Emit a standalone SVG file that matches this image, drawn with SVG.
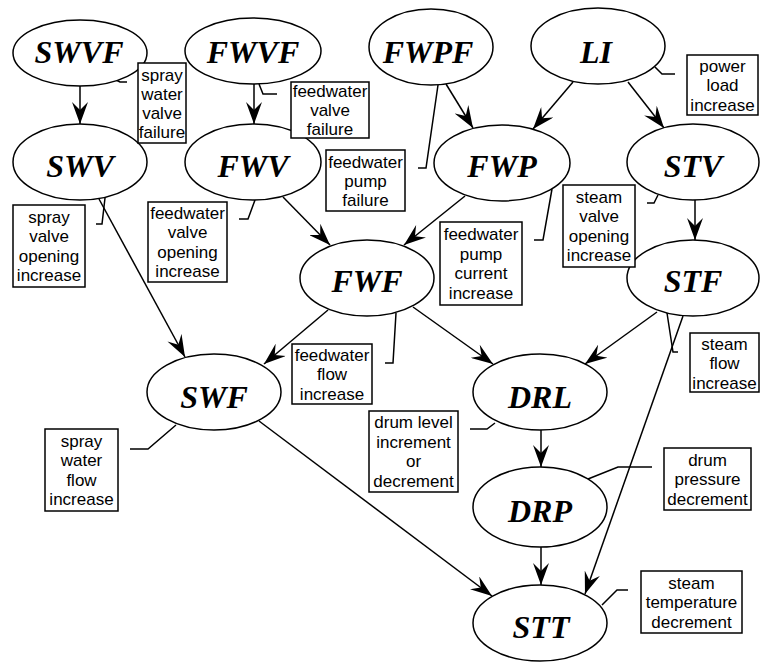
<svg xmlns="http://www.w3.org/2000/svg" width="760" height="662" viewBox="0 0 760 662">
<style>
.n ellipse{fill:#fff;stroke:#000;stroke-width:1.5}
.n text{font-family:"Liberation Serif","Times New Roman",serif;font-weight:bold;font-style:italic;font-size:32px;text-anchor:middle;fill:#000}
.l rect{fill:#fff;stroke:#000;stroke-width:1.5}
.l text{font-family:"Liberation Sans",Arial,sans-serif;font-size:17px;text-anchor:middle;fill:#000}
.e line{stroke:#000;stroke-width:1.5;marker-end:url(#ah)}
.ld polyline{fill:none;stroke:#000;stroke-width:1.5}
</style>
<defs>
<marker id="ah" viewBox="0 0 22 16" refX="22" refY="8" markerWidth="22" markerHeight="16" markerUnits="userSpaceOnUse" orient="auto">
<path d="M0,0 L22,8 L0,16 L8,8 Z" fill="#000"/>
</marker>
</defs>
<rect width="760" height="662" fill="#fff"/>

<g id="connectors">
<g class="e">
<line x1="80" y1="86" x2="80" y2="124"/>
<line x1="254" y1="84" x2="254" y2="124"/>
<line x1="446" y1="84" x2="473" y2="128"/>
<line x1="573" y1="82" x2="533" y2="129"/>
<line x1="628" y1="82" x2="664" y2="128"/>
<line x1="695" y1="200" x2="695" y2="240"/>
<line x1="283" y1="197" x2="330" y2="245"/>
<line x1="465" y1="196" x2="404" y2="245"/>
<line x1="99" y1="199" x2="185" y2="357"/>
<line x1="328" y1="310" x2="264" y2="364"/>
<line x1="413" y1="307" x2="493" y2="364"/>
<line x1="657" y1="312" x2="585" y2="364"/>
<line x1="541" y1="430" x2="541" y2="467"/>
<line x1="541" y1="547" x2="541" y2="585"/>
<line x1="259" y1="421" x2="492" y2="596"/>
<line x1="683" y1="316" x2="585" y2="594"/>
</g>
<g class="ld">
<polyline points="116,80 120,82 127,82"/>
<polyline points="259,84 263,94 277,94"/>
<polyline points="438,85 426,168 418,168"/>
<polyline points="655,67 662,74 675,74"/>
<polyline points="105,198 102,224 96,224"/>
<polyline points="255,200 248,219 239,219"/>
<polyline points="552,189 543,240 534,240"/>
<polyline points="658,195 654,203 647,203"/>
<polyline points="396,313 393,363 385,363"/>
<polyline points="667,313 673,352 678,352"/>
<polyline points="495,423 487,429 470,429"/>
<polyline points="176,425 148,449 130,449"/>
<polyline points="588,479 618,467 652,467"/>
<polyline points="602,605 617,590 628,590"/>
</g>
</g>

<g id="SWVF" class="n"><ellipse cx="80" cy="53" rx="67" ry="33"/><text x="79" y="63">SWVF</text></g>
<g id="FWVF" class="n"><ellipse cx="253" cy="51" rx="68" ry="33"/><text x="253" y="63">FWVF</text></g>
<g id="FWPF" class="n"><ellipse cx="431" cy="47" rx="62" ry="38"/><text x="428" y="63">FWPF</text></g>
<g id="LI" class="n"><ellipse cx="598" cy="46" rx="67" ry="38"/><text x="596" y="63">LI</text></g>
<g id="SWV" class="n"><ellipse cx="80" cy="162" rx="67" ry="38"/><text x="80" y="177">SWV</text></g>
<g id="FWV" class="n"><ellipse cx="253" cy="162" rx="68" ry="38"/><text x="253" y="177">FWV</text></g>
<g id="FWP" class="n"><ellipse cx="502" cy="163" rx="68" ry="38"/><text x="502" y="177">FWP</text></g>
<g id="STV" class="n"><ellipse cx="693" cy="162" rx="66" ry="38"/><text x="693" y="177">STV</text></g>
<g id="FWF" class="n"><ellipse cx="367" cy="278" rx="67" ry="38"/><text x="367" y="292">FWF</text></g>
<g id="STF" class="n"><ellipse cx="693" cy="278" rx="66" ry="38"/><text x="693" y="292">STF</text></g>
<g id="SWF" class="n"><ellipse cx="214" cy="392" rx="67" ry="38"/><text x="214" y="408">SWF</text></g>
<g id="DRL" class="n"><ellipse cx="540" cy="392" rx="67" ry="38"/><text x="540" y="408">DRL</text></g>
<g id="DRP" class="n"><ellipse cx="540" cy="507" rx="67" ry="40"/><text x="540" y="522">DRP</text></g>
<g id="STT" class="n"><ellipse cx="540" cy="623" rx="67" ry="38"/><text x="541" y="638">STT</text></g>

<g id="lbl-swvf" class="l"><rect x="138" y="63" width="48" height="80"/><text x="162"><tspan x="162" y="80.5">spray</tspan><tspan x="162" y="99.5">water</tspan><tspan x="162" y="118.5">valve</tspan><tspan x="162" y="137.5">failure</tspan></text></g>
<g id="lbl-fwvf" class="l"><rect x="291" y="82" width="78" height="56"/><text x="330"><tspan x="330" y="97">feedwater</tspan><tspan x="330" y="116">valve</tspan><tspan x="330" y="135">failure</tspan></text></g>
<g id="lbl-fwpf" class="l"><rect x="326" y="150" width="79" height="61"/><text x="365.5"><tspan x="365.5" y="167.5">feedwater</tspan><tspan x="365.5" y="186.5">pump</tspan><tspan x="365.5" y="205.5">failure</tspan></text></g>
<g id="lbl-li" class="l"><rect x="687" y="55" width="71" height="60"/><text x="722.5"><tspan x="722.5" y="71.5">power</tspan><tspan x="722.5" y="91">load</tspan><tspan x="722.5" y="110.5">increase</tspan></text></g>
<g id="lbl-swv" class="l"><rect x="13" y="205" width="72" height="82"/><text x="49"><tspan x="49" y="222.75">spray</tspan><tspan x="49" y="242.25">valve</tspan><tspan x="49" y="261.75">opening</tspan><tspan x="49" y="281.25">increase</tspan></text></g>
<g id="lbl-fwv" class="l"><rect x="148" y="202" width="79" height="80"/><text x="187.5"><tspan x="187.5" y="218.75">feedwater</tspan><tspan x="187.5" y="238.25">valve</tspan><tspan x="187.5" y="257.75">opening</tspan><tspan x="187.5" y="277.25">increase</tspan></text></g>
<g id="lbl-fwp" class="l"><rect x="440" y="222" width="82" height="83"/><text x="481"><tspan x="481" y="240">feedwater</tspan><tspan x="481" y="259.5">pump</tspan><tspan x="481" y="279">current</tspan><tspan x="481" y="298.5">increase</tspan></text></g>
<g id="lbl-stv" class="l"><rect x="563" y="185" width="72" height="82"/><text x="599"><tspan x="599" y="202.75">steam</tspan><tspan x="599" y="222.25">valve</tspan><tspan x="599" y="241.75">opening</tspan><tspan x="599" y="261.25">increase</tspan></text></g>
<g id="lbl-fwf" class="l"><rect x="292" y="344" width="80" height="60"/><text x="332"><tspan x="332" y="360.5">feedwater</tspan><tspan x="332" y="380">flow</tspan><tspan x="332" y="399.5">increase</tspan></text></g>
<g id="lbl-stf" class="l"><rect x="690" y="333" width="69" height="59"/><text x="724.5"><tspan x="724.5" y="349.5">steam</tspan><tspan x="724.5" y="369">flow</tspan><tspan x="724.5" y="388.5">increase</tspan></text></g>
<g id="lbl-drl" class="l"><rect x="369" y="411" width="89" height="81"/><text x="413.5"><tspan x="413.5" y="428">drum level</tspan><tspan x="413.5" y="447.5">increment</tspan><tspan x="413.5" y="467">or</tspan><tspan x="413.5" y="486.5">decrement</tspan></text></g>
<g id="lbl-swf" class="l"><rect x="45" y="429" width="73" height="82"/><text x="81.5"><tspan x="81.5" y="446.5">spray</tspan><tspan x="81.5" y="466">water</tspan><tspan x="81.5" y="485.5">flow</tspan><tspan x="81.5" y="505">increase</tspan></text></g>
<g id="lbl-drp" class="l"><rect x="664" y="448" width="87" height="62"/><text x="707.5"><tspan x="707.5" y="465.5">drum</tspan><tspan x="707.5" y="485">pressure</tspan><tspan x="707.5" y="504.5">decrement</tspan></text></g>
<g id="lbl-stt" class="l"><rect x="641" y="571" width="101" height="62"/><text x="691.5"><tspan x="691.5" y="588.5">steam</tspan><tspan x="691.5" y="608">temperature</tspan><tspan x="691.5" y="627.5">decrement</tspan></text></g>
</svg>
